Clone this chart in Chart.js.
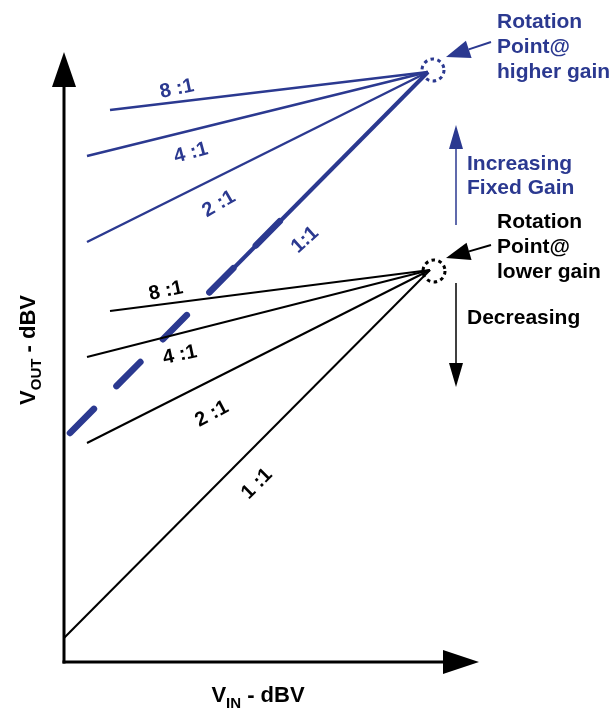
<!DOCTYPE html>
<html>
<head>
<meta charset="utf-8">
<script src="https://cdn.jsdelivr.net/npm/chart.js@4.4.1/dist/chart.umd.min.js"></script>
<style>
  html, body { margin: 0; padding: 0; background: #fff; }
  #wrap { width: 612px; height: 709px; }
</style>
</head>
<body>
<div id="wrap"><canvas id="grafico"></canvas></div>
<script>
// Datos (unidades de la figura: x = Vin, y = Vout)
const razones = ["1 :1", "2 :1", "4 :1", "8 :1"];
const pivoteBajo = [366, 392];   // punto de rotacion, ganancia baja
const pivoteAlto = [364, 590];   // punto de rotacion, ganancia alta
const inicioBajoX = [0, 23, 23, 46];
const inicioBajoY = [24, 219, 305, 351];
const inicioAltoX = [6, 23, 23, 46];
const inicioAltoY = [229, 420, 506, 552];
const finPunteado11 = [221, 446];   // fin del tramo punteado grueso de 1:1
const inicioSolido11 = [144, 368];  // donde arranca el tramo continuo de 1:1

const AZUL = "#2b3990";
const NEGRO = "#000000";
const FUENTE = "'Liberation Sans', Arial, sans-serif";

function recta(a, b) {
  return [{ x: a[0], y: a[1] }, { x: b[0], y: b[1] }];
}

const datasets = [];
for (let i = 0; i < razones.length; i++) {
  datasets.push({
    label: "baja " + razones[i],
    data: recta([inicioBajoX[i], inicioBajoY[i]], pivoteBajo),
    borderColor: NEGRO,
    borderWidth: 2,
  });
}
for (let i = 1; i < razones.length; i++) {
  datasets.push({
    label: "alta " + razones[i],
    data: recta([inicioAltoX[i], inicioAltoY[i]], pivoteAlto),
    borderColor: AZUL,
    borderWidth: 2.5,
  });
}
// 1:1 a ganancia alta: tramo continuo + trazos gruesos encima
datasets.push({
  label: "alta 1:1",
  data: recta(inicioSolido11, pivoteAlto),
  borderColor: AZUL,
  borderWidth: 4,
});
datasets.push({
  label: "alta 1:1 punteada",
  data: recta([inicioAltoX[0], inicioAltoY[0]], finPunteado11),
  borderColor: AZUL,
  borderWidth: 6.5,
  borderDash: [34, 32],
  borderCapStyle: "round",
});

// Utilidades de dibujo
function flecha(ctx, x1, y1, x2, y2, largo, ancho, color, grosor) {
  const ang = Math.atan2(y2 - y1, x2 - x1);
  const bx = x2 - largo * Math.cos(ang);
  const by = y2 - largo * Math.sin(ang);
  ctx.strokeStyle = color;
  ctx.fillStyle = color;
  ctx.lineWidth = grosor;
  ctx.beginPath();
  ctx.moveTo(x1, y1);
  ctx.lineTo(bx, by);
  ctx.stroke();
  ctx.beginPath();
  ctx.moveTo(x2, y2);
  ctx.lineTo(bx + ancho * Math.sin(ang), by - ancho * Math.cos(ang));
  ctx.lineTo(bx - ancho * Math.sin(ang), by + ancho * Math.cos(ang));
  ctx.closePath();
  ctx.fill();
}

function textoRotado(ctx, txt, x, y, grados, color) {
  ctx.save();
  ctx.translate(x, y);
  ctx.rotate(grados * Math.PI / 180);
  ctx.fillStyle = color;
  ctx.font = "bold 20px " + FUENTE;
  ctx.textAlign = "center";
  ctx.textBaseline = "middle";
  ctx.fillText(txt, 0, 0);
  ctx.restore();
}

function lineas(ctx, arr, x, y0, paso, color) {
  ctx.fillStyle = color;
  ctx.font = "bold 21px " + FUENTE;
  ctx.textAlign = "left";
  ctx.textBaseline = "alphabetic";
  arr.forEach((t, i) => ctx.fillText(t, x, y0 + i * paso));
}

function tituloSub(ctx, base, sub, resto, cx, cy) {
  const fGrande = "bold 22px " + FUENTE;
  const fChica = "bold 15px " + FUENTE;
  ctx.font = fGrande;
  const w1 = ctx.measureText(base).width;
  const w3 = ctx.measureText(resto).width;
  ctx.font = fChica;
  const w2 = ctx.measureText(sub).width;
  let x = cx - (w1 + w2 + w3) / 2;
  ctx.fillStyle = NEGRO;
  ctx.textAlign = "left";
  ctx.textBaseline = "alphabetic";
  ctx.font = fGrande; ctx.fillText(base, x, cy); x += w1;
  ctx.font = fChica; ctx.fillText(sub, x, cy + 6); x += w2;
  ctx.font = fGrande; ctx.fillText(resto, x, cy);
}

const diagrama = {
  id: "diagrama",
  afterDatasetsDraw(chart) {
    const ctx = chart.ctx;
    const sx = chart.scales.x, sy = chart.scales.y;
    const X = v => sx.getPixelForValue(v);
    const Y = v => sy.getPixelForValue(v);
    const x0 = X(0), y0 = Y(0);
    ctx.save();

    // Ejes con flechas
    flecha(ctx, x0, y0 + 1.5, x0, 52, 35, 12, NEGRO, 3);
    flecha(ctx, x0 - 1.5, y0, 479, y0, 36, 12, NEGRO, 3);

    // Circulos punteados de los puntos de rotacion
    ctx.setLineDash([3.5, 3.5]);
    ctx.lineWidth = 3;
    ctx.strokeStyle = AZUL;
    ctx.beginPath(); ctx.arc(X(pivoteAlto[0]) + 5, Y(pivoteAlto[1]) - 2, 11, 0, Math.PI * 2); ctx.stroke();
    ctx.strokeStyle = NEGRO;
    ctx.beginPath(); ctx.arc(X(pivoteBajo[0]) + 4, Y(pivoteBajo[1]) + 1, 11, 0, Math.PI * 2); ctx.stroke();
    ctx.setLineDash([]);

    // Flechas indicadoras
    flecha(ctx, 491, 42, 446, 57, 24, 9, AZUL, 2);
    flecha(ctx, 491, 245, 446, 258, 24, 9, NEGRO, 2);
    flecha(ctx, 456, 225, 456, 125, 24, 7, AZUL, 1.5);
    flecha(ctx, 456, 283, 456, 387, 24, 7, NEGRO, 1.5);

    // Textos de la derecha
    lineas(ctx, ["Rotation", "Point@", "higher gain"], 497, 28, 25, AZUL);
    lineas(ctx, ["Increasing", "Fixed Gain"], 467, 170, 24, AZUL);
    lineas(ctx, ["Rotation", "Point@", "lower gain"], 497, 228, 25, NEGRO);
    lineas(ctx, ["Decreasing"], 467, 324, 25, NEGRO);

    // Etiquetas de las razones
    textoRotado(ctx, "8 :1", 177, 89, -12, AZUL);
    textoRotado(ctx, "4 :1", 191, 153, -15, AZUL);
    textoRotado(ctx, "2 :1", 219, 204, -30, AZUL);
    textoRotado(ctx, "1:1", 305, 240, -42, AZUL);
    textoRotado(ctx, "8 :1", 166, 291, -12, NEGRO);
    textoRotado(ctx, "4 :1", 180, 355, -12, NEGRO);
    textoRotado(ctx, "2 :1", 212, 414, -28, NEGRO);
    textoRotado(ctx, "1 :1", 257, 484, -45, NEGRO);

    // Titulos de ejes
    tituloSub(ctx, "V", "IN", " - dBV", 258, 702);
    ctx.save();
    ctx.translate(35, 350);
    ctx.rotate(-Math.PI / 2);
    tituloSub(ctx, "V", "OUT", " - dBV", 0, 0);
    ctx.restore();

    ctx.restore();
  },
};

new Chart(document.getElementById("grafico").getContext("2d"), {
  type: "scatter",
  data: { datasets },
  options: {
    responsive: true,
    maintainAspectRatio: false,
    animation: false,
    showLine: true,
    elements: { point: { radius: 0 }, line: { tension: 0 } },
    layout: { padding: { left: 64, right: 12, top: 10, bottom: 47 } },
    plugins: { legend: { display: false }, tooltip: { enabled: false } },
    scales: {
      x: { type: "linear", min: 0, max: 536, display: false },
      y: { type: "linear", min: 0, max: 652, display: false },
    },
  },
  plugins: [diagrama],
});
</script>
</body>
</html>
